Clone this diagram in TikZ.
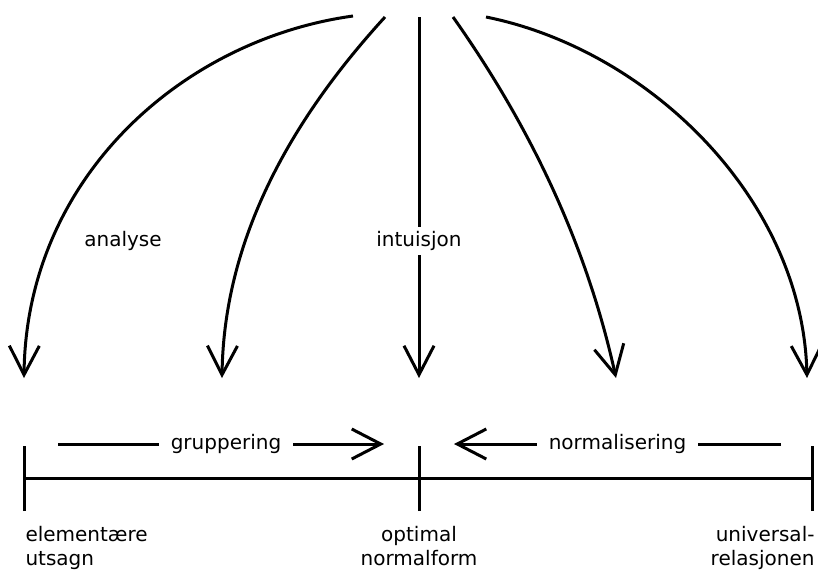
\documentclass[tikz,border=0pt]{standalone}
\usepackage{fontspec}
\setmainfont{DejaVu Sans}
\usetikzlibrary{arrows.meta}
\begin{document}
\begin{tikzpicture}[x=1pt,y=-1pt,
  line width=3pt,
  flow/.style={-{Straight Barb[length=29pt,width=30pt,line width=3pt]}},
  lbl/.style={font=\fontsize{20}{24}\selectfont, inner sep=0pt},
  tick/.style={line width=3pt}]
\useasboundingbox (0,0) rectangle (818,573);

% sources at the top
\coordinate (s1) at (353,16);
\coordinate (s2) at (385,17);
\coordinate (s3) at (419,17);
\coordinate (s4) at (453,17);
\coordinate (s5) at (486,17);

% arrow targets
\coordinate (t1) at (24,378);
\coordinate (t2) at (222,378);
\coordinate (t3) at (419,378);
\coordinate (t4) at (616,378);
\coordinate (t5) at (807,378);

\draw[flow] (s1) .. controls (180,40) and (26,180) .. (t1);
\draw[flow] (s2) .. controls (300,110) and (224,230) .. (t2);
\draw[flow] (s3) -- (t3);
\draw[flow] (s4) .. controls (540,140) and (590,260) .. (t4);
\draw[flow] (s5) .. controls (650,50) and (803,200) .. (t5);

\node[lbl] (analyse) at (123,241) {analyse};
\node[lbl,fill=white,inner sep=4pt] (intuisjon) at (419,241) {intuisjon};

% scale at the bottom
\coordinate (a) at (24,478);
\coordinate (b) at (419,478);
\coordinate (c) at (812,478);
\draw (a) -- (c);
\draw[tick] ([yshift=-33pt]a) -- ([yshift=32pt]a);
\draw[tick] ([yshift=-33pt]b) -- ([yshift=32pt]b);
\draw[tick] ([yshift=-33pt]c) -- ([yshift=32pt]c);

% grouping and normalisation
\coordinate (g0) at (58,444);
\coordinate (g1) at (384,444);
\coordinate (n0) at (781,444);
\coordinate (n1) at (454,444);
\draw[flow] (g0) -- node[lbl,fill=white,inner xsep=12pt,inner ysep=4pt,xshift=5pt] (grp) {gruppering} (g1);
\draw[flow] (n0) -- node[lbl,fill=white,inner xsep=12pt,inner ysep=4pt] (nrm) {normalisering} (n1);

% end labels
\node[lbl,anchor=north west,align=left] (elem) at (24,525) {elementære\\utsagn};
\node[lbl,anchor=north,align=center] (opt) at (419,525) {optimal\\normalform};
\node[lbl,anchor=north east,align=right] (univ) at (816,525) {universal-\\relasjonen};
\end{tikzpicture}
\end{document}
